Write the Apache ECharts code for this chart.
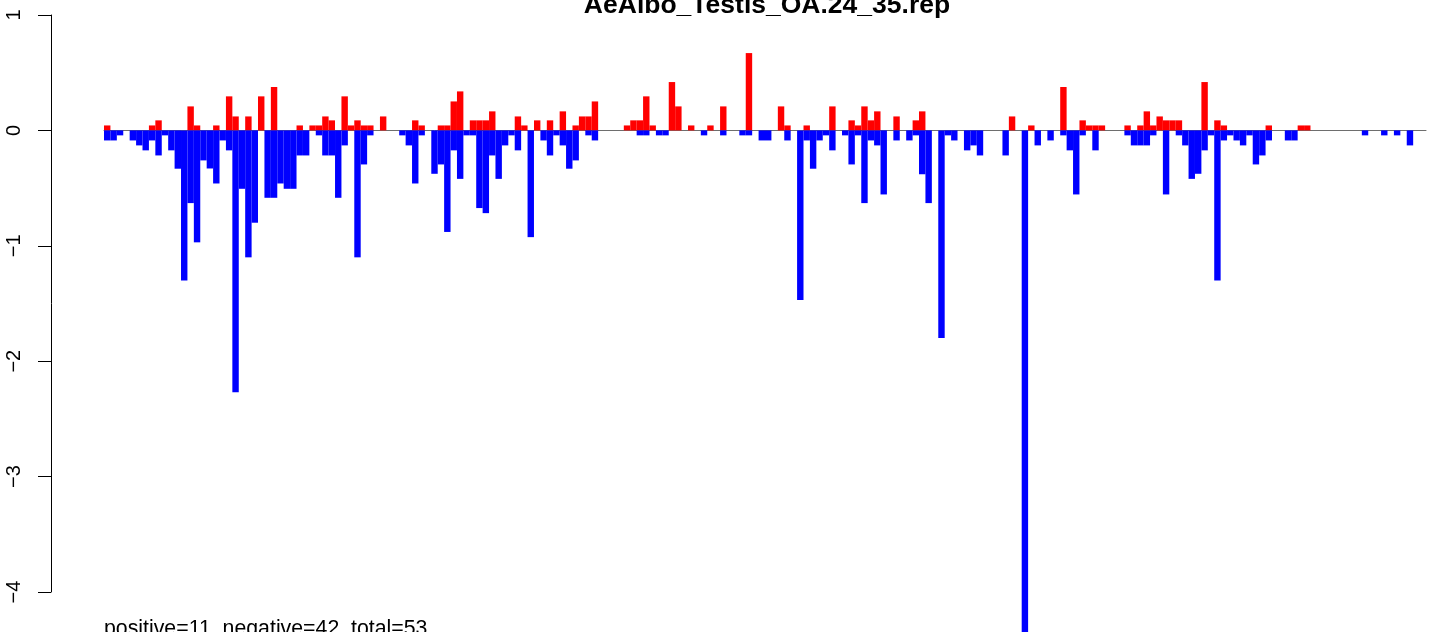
<!DOCTYPE html>
<html>
<head>
<meta charset="utf-8">
<script src="https://cdn.jsdelivr.net/npm/echarts@6/dist/echarts.min.js"></script>
<style>
html,body{margin:0;padding:0;background:#fff;}
#chart{width:1429px;height:632px;}
</style>
</head>
<body>
<div id="chart"></div>
<script>
// bar values, one entry per position (206 positions)
var positive = [
 0.043,0,0,0,0,0,0,0.043,0.087,0, 0,0,0,0.208,0.043,0,0,0.043,0,0.295,
 0.121,0,0.121,0,0.295,0,0.376,0,0,0, 0.043,0,0.043,0.043,0.121,0.087,0,0.295,0.043,0.087,
 0.043,0.043,0,0.121,0,0,0,0,0.087,0.043, 0,0,0.043,0.043,0.251,0.338,0,0.087,0.087,0.087,
 0.165,0,0,0,0.121,0.043,0,0.087,0,0.087, 0,0.165,0,0.043,0.121,0.121,0.251,0,0,0,
 0,0.043,0.087,0.087,0.295,0.043,0,0,0.419,0.208, 0,0.043,0,0,0.043,0,0.208,0,0,0,
 0.67,0,0,0,0,0.208,0.043,0,0,0.043, 0,0,0,0.208,0,0,0.087,0.043,0.208,0.087,
 0.165,0,0,0.121,0,0,0.087,0.165,0,0, 0,0,0,0,0,0,0,0,0,0,
 0,0.121,0,0,0.043,0,0,0,0,0.376, 0,0,0.087,0.043,0.043,0.043,0,0,0,0.043,
 0,0.043,0.165,0.043,0.121,0.087,0.087,0.087,0,0, 0,0.419,0,0.087,0.043,0,0,0,0,0,
 0,0.043,0,0,0,0,0.043,0.043,0,0, 0,0,0,0,0,0,0,0,0,0,
 0,0,0,0,0,0
];
var negative = [
 -0.087,-0.087,-0.043,0,-0.087,-0.13,-0.173,-0.087,-0.217,-0.043, -0.173,-0.332,-1.30,-0.63,-0.97,-0.26,-0.33,-0.46,-0.087,-0.173,
 -2.27,-0.506,-1.10,-0.80,0,-0.584,-0.584,-0.46,-0.506,-0.506, -0.217,-0.217,0,-0.043,-0.217,-0.217,-0.584,-0.13,0,-1.10,
 -0.295,-0.043,0,0,0,0,-0.043,-0.13,-0.46,-0.043, 0,-0.376,-0.295,-0.88,-0.173,-0.42,-0.043,-0.043,-0.673,-0.717,
 -0.217,-0.42,-0.13,-0.043,-0.173,0,-0.925,0,-0.087,-0.217, -0.043,-0.13,-0.332,-0.26,0,-0.043,-0.087,0,0,0,
 0,0,0,-0.043,-0.043,0,-0.043,-0.043,0,0, 0,0,0,-0.043,0,0,-0.043,0,0,-0.043,
 -0.043,0,-0.087,-0.087,0,0,-0.087,0,-1.47,-0.087, -0.332,-0.087,-0.043,-0.173,0,-0.043,-0.295,-0.043,-0.63,-0.087,
 -0.13,-0.555,0,-0.087,0,-0.087,-0.043,-0.38,-0.63,0, -1.80,-0.043,-0.087,0,-0.173,-0.13,-0.217,0,0,0,
 -0.217,0,0,-4.40,0,-0.13,0,-0.087,0,-0.043, -0.173,-0.555,-0.043,0,-0.173,0,0,0,0,-0.043,
 -0.13,-0.13,-0.13,-0.043,0,-0.555,0,-0.043,-0.13,-0.42, -0.376,-0.173,-0.043,-1.30,-0.087,-0.043,-0.087,-0.13,-0.043,-0.295,
 -0.217,-0.087,0,0,-0.087,-0.087,0,0,0,0, 0,0,0,0,0,0,-0.043,0,0,-0.043,
 0,-0.043,0,-0.13,0,0
];
var yTicks = [-4, -3, -2, -1, 0, 1];
var titleText = 'AeAlbo_Testis_OA.24_35.rep';
var footText = 'positive=11, negative=42, total=53';

var categories = [];
for (var i = 0; i < positive.length; i++) {
    categories.push(String(i + 1));
}

var font = '"Liberation Sans", Arial, Helvetica, sans-serif';
var myChart = echarts.init(document.getElementById('chart'), null, {renderer: 'canvas'});
var option = {
    animation: false,
    backgroundColor: '#fff',
    grid: {
        left: 104,
        right: 3,
        top: 15,
        bottom: 40
    },
    xAxis: {
        type: 'category',
        data: categories,
        boundaryGap: true,
        axisLine: {
            show: true,
            onZero: true,
            lineStyle: {color: '#6e6e6e', width: 1}
        },
        axisTick: {show: false},
        axisLabel: {show: false},
        splitLine: {show: false}
    },
    yAxis: {
        type: 'value',
        min: yTicks[0],
        max: yTicks[yTicks.length - 1],
        interval: 1,
        offset: 53,
        axisLine: {show: true, lineStyle: {color: '#000', width: 1}},
        axisTick: {show: true, length: 13, lineStyle: {color: '#000', width: 1}},
        axisLabel: {
            rotate: 90,
            margin: 27,
            color: '#000',
            fontSize: 20,
            fontFamily: font,
            formatter: function (v) {
                return String(v).replace('-', '\u2212');
            }
        },
        splitLine: {show: false}
    },
    graphic: [
        {
            type: 'text',
            x: 767,
            y: 19,
            style: {
                text: titleText,
                font: 'bold 26.5px ' + font,
                fill: '#000',
                textAlign: 'center',
                textVerticalAlign: 'bottom'
            }
        },
        {
            type: 'text',
            x: 104,
            y: 619,
            style: {
                text: footText,
                font: '21.3px ' + font,
                fill: '#000',
                textAlign: 'left',
                textVerticalAlign: 'top'
            }
        }
    ],
    series: [
        {
            name: 'positive',
            type: 'bar',
            data: positive,
            barCategoryGap: '0%',
            barGap: '-100%',
            clip: false,
            itemStyle: {color: '#ff0000'},
            emphasis: {disabled: true}
        },
        {
            name: 'negative',
            type: 'bar',
            data: negative,
            barCategoryGap: '0%',
            barGap: '-100%',
            clip: false,
            itemStyle: {color: '#0000ff'},
            emphasis: {disabled: true}
        }
    ]
};
myChart.setOption(option);
</script>
</body>
</html>
